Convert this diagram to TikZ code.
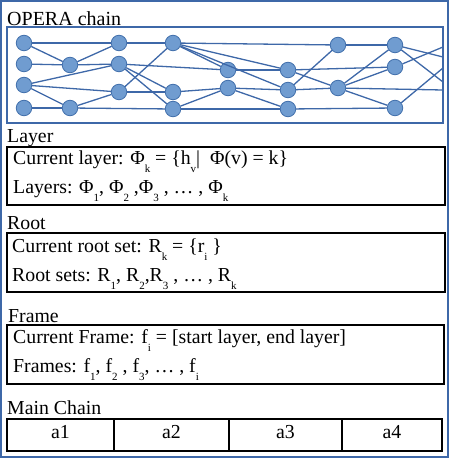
\documentclass[tikz,border=0pt]{standalone}
\usepackage{fontspec}
\setmainfont{Liberation Serif}
\definecolor{chainblue}{RGB}{62,104,168}
\definecolor{dotfill}{RGB}{112,156,208}
\definecolor{dotline}{RGB}{66,112,172}
\newcommand{\lo}[1]{\raisebox{-8.5pt}{\fontsize{11}{11}\selectfont #1}}

\begin{document}
\begin{tikzpicture}[x=1pt,y=-1pt,
	vtx/.style={circle,draw=dotline,fill=dotfill,line width=0.8pt,minimum size=15.5pt,inner sep=0pt},
	link/.style={chainblue,line width=1.3pt},
	lbl/.style={anchor=base west,inner sep=0pt,font=\fontsize{19.8}{22}\selectfont},
	box/.style={line width=1.2pt},
	cell/.style={draw,line width=1.2pt,minimum height=32pt,text height=12pt,text depth=5pt,inner sep=0pt,font=\fontsize{19.8}{22}\selectfont}]
	\useasboundingbox (0,0) rectangle (450,458);
	\draw[chainblue,line width=1.5pt] (1,1) rectangle (448,457);
	% OPERA chain
	\node[lbl,font=\fontsize{20}{22}\selectfont] (opera) at (7,25) {OPERA chain};
	\draw[chainblue,line width=1.6pt] (7,27) rectangle (443,123);
	\coordinate (o1) at (443,47);\coordinate (o2) at (443,57);\coordinate (o3) at (443,68);
	\coordinate (o4) at (443,82);\coordinate (o5) at (443,90);
	\node[vtx] (v1a) at (24,43){};\node[vtx] (v1b) at (24,64){};\node[vtx] (v1c) at (24,85){};\node[vtx] (v1d) at (24,108){};
	\node[vtx] (v2a) at (70,65){};\node[vtx] (v2b) at (70,108){};
	\node[vtx] (v3a) at (119,43){};\node[vtx] (v3b) at (119,64){};\node[vtx] (v3c) at (119,92){};
	\node[vtx] (v4a) at (173,43){};\node[vtx] (v4b) at (173,92){};\node[vtx] (v4c) at (173,109){};
	\node[vtx] (v5a) at (228,70){};\node[vtx] (v5b) at (228,88){};
	\node[vtx] (v6a) at (288,70){};\node[vtx] (v6b) at (288,90){};\node[vtx] (v6c) at (288,109){};
	\node[vtx] (v7a) at (338,45){};\node[vtx] (v7b) at (338,88){};
	\node[vtx] (v8a) at (395,45){};\node[vtx] (v8b) at (395,67){};\node[vtx] (v8c) at (395,108){};
	\draw[link] (v1a)--(v3a);\draw[link] (v1a)--(v2a);\draw[link] (v1b)--(v2a);
	\draw[link] (v2a)--(v3a);\draw[link] (v2a)--(v3b);\draw[link] (v1c)--(v3b);
	\draw[link] (v1c)--(v3c);\draw[link] (v1c)--(v2b);\draw[link] (v1d)--(v2b);
	\draw[link] (v2b)--(v3c);\draw[link] (v2b)--(v4c);
	\draw[link] (v3a)--(v4a);\draw[link] (v3b)--(v4b);\draw[link] (v3b)--(v4c);
	\draw[link] (v3b)--(v5a);\draw[link] (v3c)--(v4a);\draw[link] (v3c)--(v4b);
	\draw[link] (v4a)--(v7a);\draw[link] (v4a)--(v5a);\draw[link] (v4a)--(v6a);\draw[link] (v4a)--(v6b);
	\draw[link] (v4b)--(v5b);\draw[link] (v4c)--(v5b);\draw[link] (v4c)--(v6c);
	\draw[link] (v5a)--(v6a);\draw[link] (v5b)--(v6b);\draw[link] (v5b)--(v6c);
	\draw[link] (v6a)--(v7b);\draw[link] (v6a)--(v8b);\draw[link] (v6b)--(v7a);\draw[link] (v6c)--(v8c);
	\draw[link] (v6b)--(v7b);\draw[link] (v7b)--(o5);
	\draw[link] (v7a)--(v8a);\draw[link] (v7b)--(v8a);\draw[link] (v7b)--(v8b);\draw[link] (v7b)--(v8c);
	\draw[link] (v8a)--(o2);\draw[link] (v8a)--(o4);\draw[link] (v8b)--(o1);\draw[link] (v8c)--(o3);
	% Layer
	\node[lbl] (layer) at (7,142){Layer};
	\draw[box] (7,147) rectangle (445,205);
	\node[lbl] (curlayer) at (13,164){Current layer: Φ\lo{k} = \{h\lo{v}|~~Φ(v) = k\}};
	\node[lbl] (layers) at (13,193){Layers: Φ\lo{1}, Φ\lo{2} ,Φ\lo{3} , … , Φ\lo{k}};
	% Root
	\node[lbl] (root) at (7,229){Root};
	\draw[box] (7,233) rectangle (445,292);
	\node[lbl] (curroot) at (12,252){Current root set: R\lo{k} = \{r\lo{i} \}};
	\node[lbl] (roots) at (12,281){Root sets: R\lo{1}, R\lo{2},R\lo{3} , … , R\lo{k}};
	% Frame
	\node[lbl] (frame) at (8,322){Frame};
	\draw[box] (7,325) rectangle (444,384);
	\node[lbl] (curframe) at (13,343){Current Frame: f\lo{i} = [start layer, end layer]};
	\node[lbl] (frames) at (13,372){Frames: f\lo{1}, f\lo{2} , f\lo{3}, … , f\lo{i}};
	% Main Chain
	\node[lbl] (mainchain) at (7,414){Main Chain};
	\node[cell,minimum width=107pt] (a1) at (60.5,435){a1};
	\node[cell,minimum width=115pt] (a2) at (171.5,435){a2};
	\node[cell,minimum width=113pt] (a3) at (285.5,435){a3};
	\node[cell,minimum width=100pt] (a4) at (392,435){a4};
\end{tikzpicture}
\end{document}
